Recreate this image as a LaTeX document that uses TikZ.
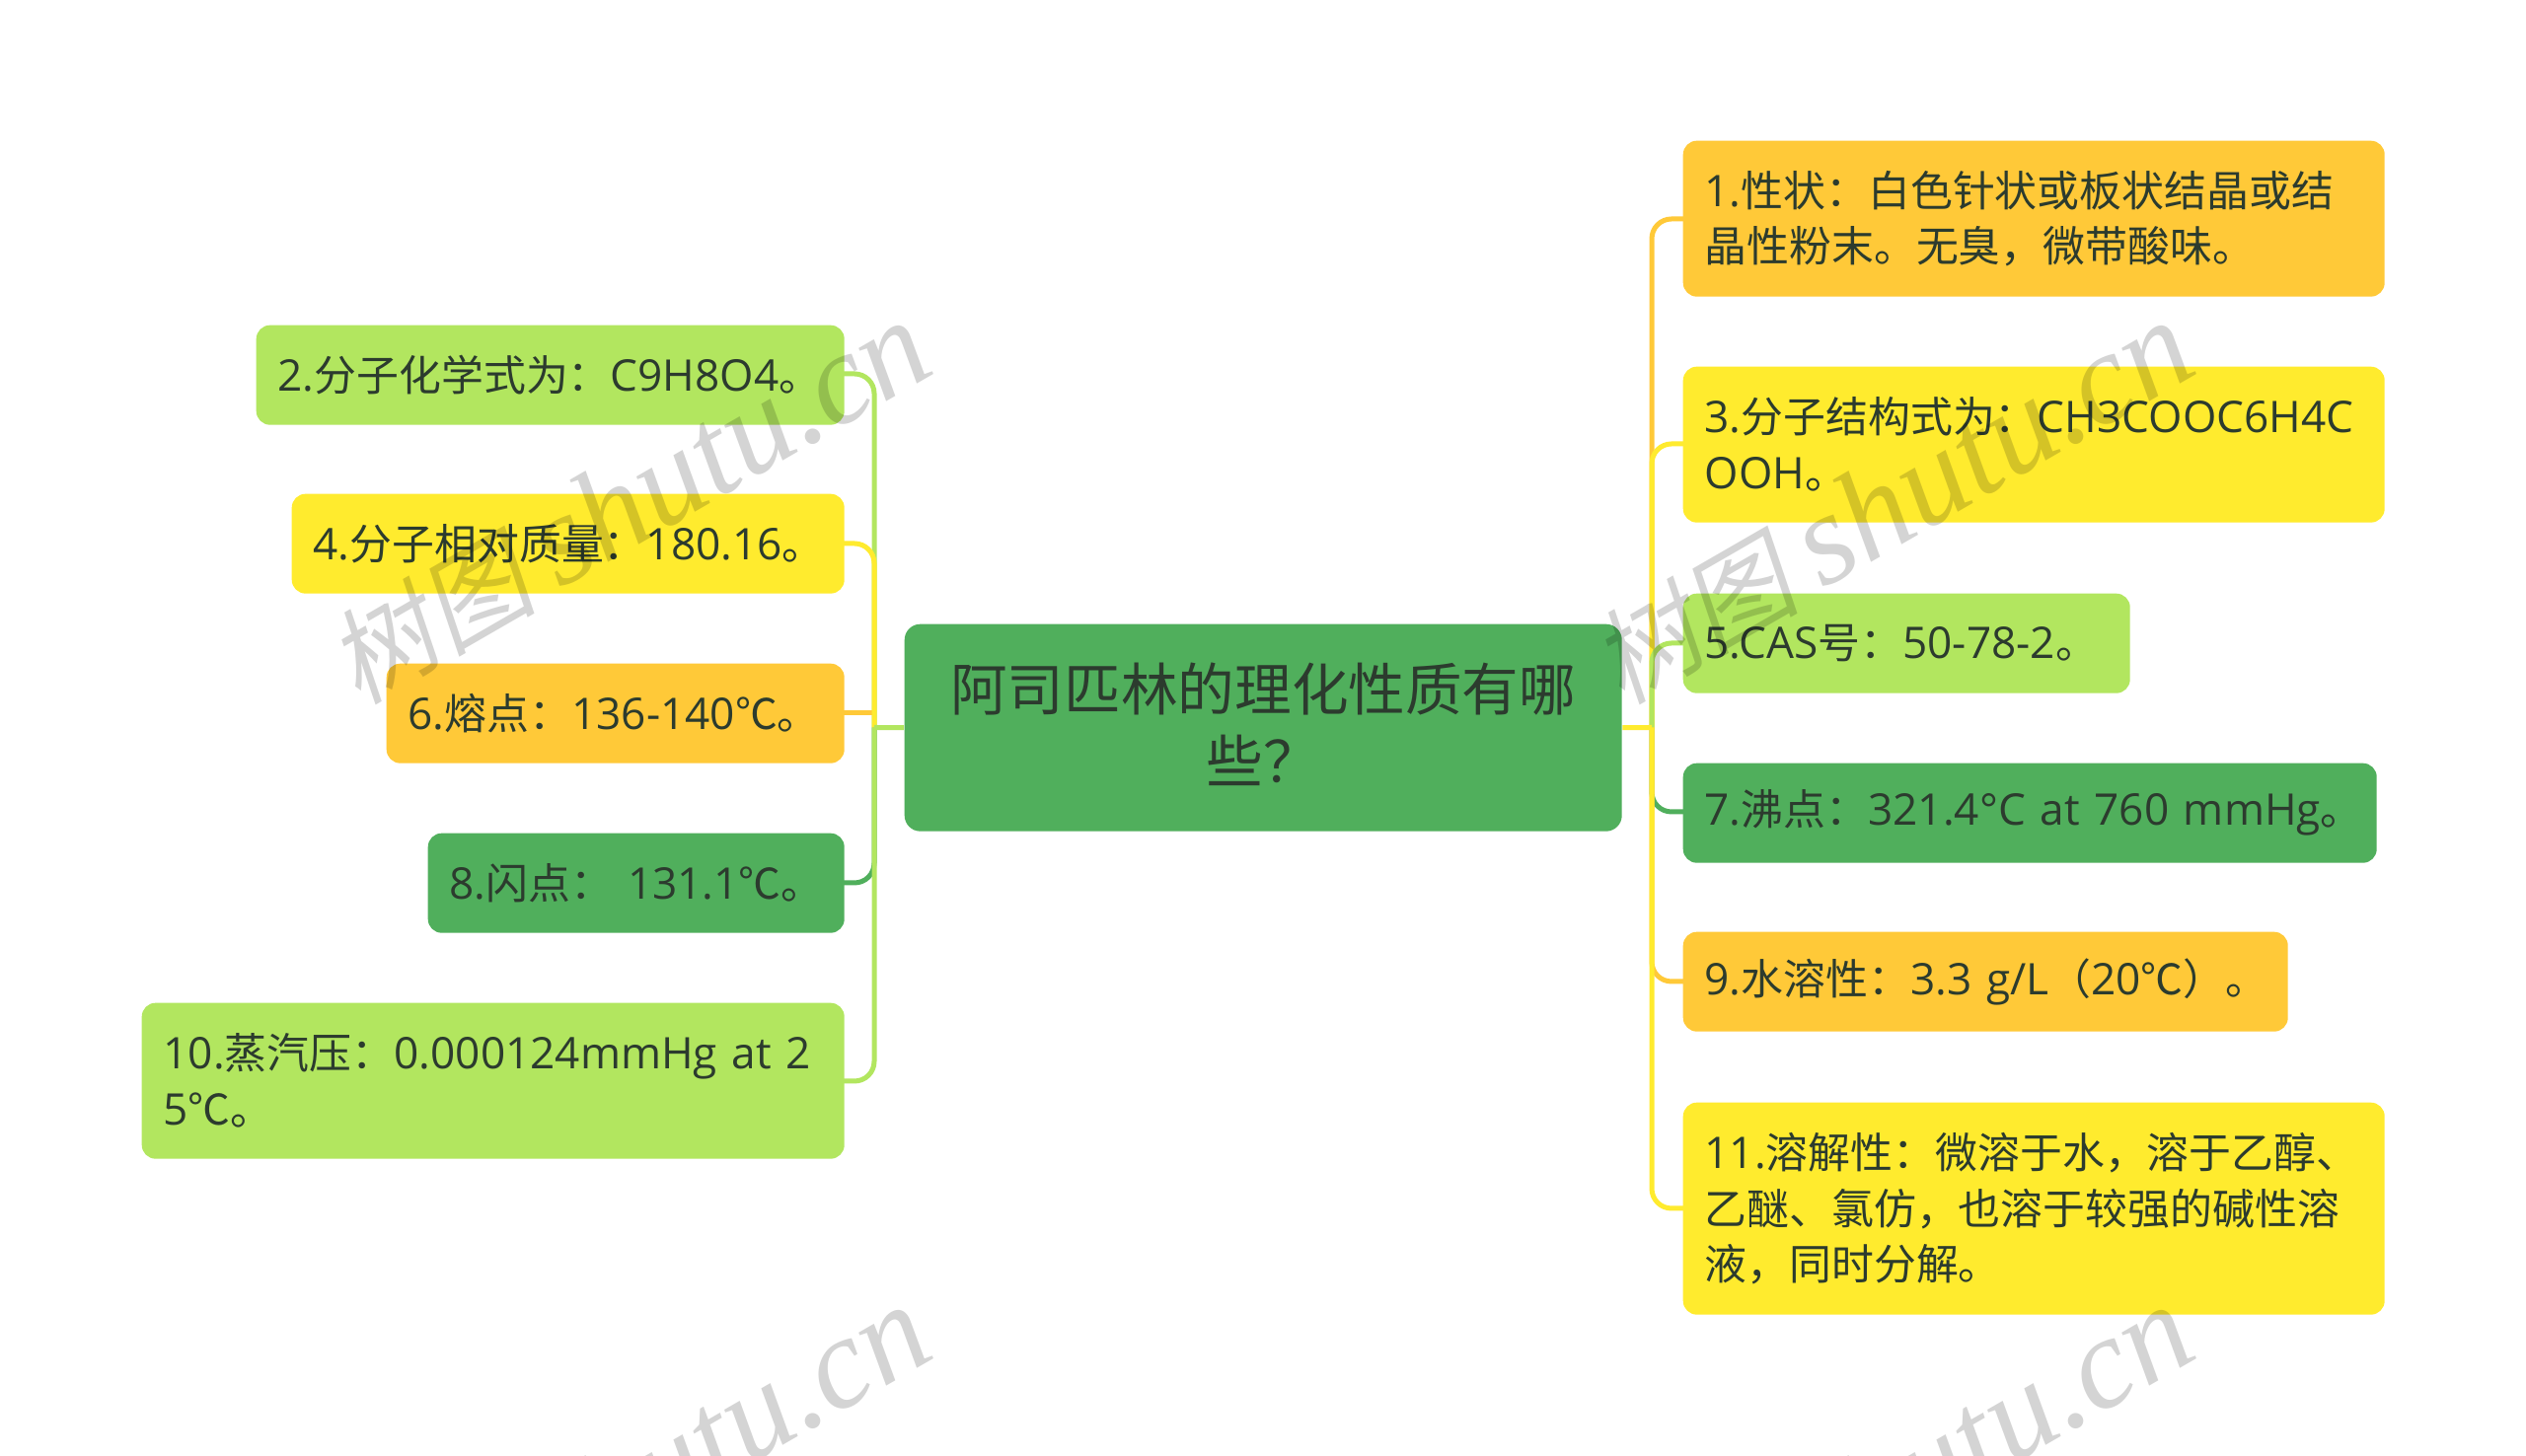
\documentclass[tikz,border=0pt]{standalone}
\usepackage{fontspec}
\setmainfont{Open Sans}[Scale=1.03]
\newfontfamily\cjk{Noto Sans CJK SC}
\newfontfamily\wmzh[FakeSlant=0.2]{Noto Sans CJK SC}
\newfontfamily\wmen{Liberation Serif}[ItalicFont={Liberation Serif Italic}]
\newcommand{\zh}[1]{{\cjk #1}}
\newcommand{\wmtext}{{\wmzh\fontsize{30}{30}\selectfont 树图}\hspace{7pt}{\wmen\itshape\fontsize{37.5}{37.5}\selectfont shutu.cn}}
\definecolor{leafgreen}{HTML}{B2E65F}
\definecolor{darkgreen}{HTML}{50AF5C}
\definecolor{leafyellow}{HTML}{FFEB2E}
\definecolor{leaforange}{HTML}{FFC938}
\definecolor{inktext}{HTML}{2C3B2E}
\tikzset{
	leaf/.style={anchor=north west, rounded corners=0.14cm, inner xsep=0.22cm, inner ysep=0pt, align=left, text=inktext, font=\fontsize{12.2}{16.2}\selectfont},
	topic/.style={anchor=north west, rounded corners=0.16cm, fill=darkgreen, inner xsep=0.21cm, inner ysep=0pt, align=center, text=inktext, font=\fontsize{16.4}{20.8}\selectfont},
	branch/.style={line width=0.05cm, rounded corners=0.2cm},
	stamp/.style={rotate=30, text=black, text opacity=0.17}
}
\begin{document}
\begin{tikzpicture}
	\path[use as bounding box, fill=white] (0,0) rectangle (25.6,14.76);
	\clip (0,0) rectangle (25.6,14.76);

	\coordinate (lbus) at (8.86,7.385);
	\coordinate (rbus) at (16.74,7.385);

	\draw[branch, leafgreen] (lbus) |- (8.55,10.97) coordinate (lend2);
	\draw[branch, darkgreen] (lbus) |- (8.55,5.81) coordinate (lend8);
	\draw[branch, leafgreen] (lbus) |- (8.55,3.80) coordinate (lend10);
	\draw[branch, leaforange] (lbus |- 0,7.53) -- (8.55,7.53) coordinate (lend6);
	\draw[branch, leafyellow] (lbus) |- (8.55,9.25) coordinate (lend4);

	\draw[branch, leaforange] (rbus) |- (17.06,12.54) coordinate (rend1);
	\draw[branch, darkgreen] (rbus) |- (17.06,6.53) coordinate (rend7);
	\draw[branch, leaforange] (rbus) |- (17.06,4.81) coordinate (rend9);
	\draw[branch, leafyellow] (rbus) |- (17.06,10.26) coordinate (rend3);
	\draw[branch, leafgreen] (rbus) |- (17.06,8.24) coordinate (rend5);
	\draw[branch, leafyellow] (rbus) |- (17.06,2.51) coordinate (rend11);

	\node[topic, text width=6.85cm, minimum height=2.10cm, text depth=23.8pt] (title) at (9.16,8.44) {\zh{阿司匹林的理化性质有哪}\\\zh{些？}};

	\draw[line width=0.05cm, leafgreen] (title.west) -- (lbus);
	\draw[line width=0.05cm, leafyellow] (title.east) -- (rbus);

	\node[leaf, fill=leafgreen, text width=5.52cm, minimum height=1.01cm] (item2) at (2.59,11.47) {2.\zh{分子化学式为：}C9H8O4\zh{。}};
	\node[leaf, fill=leafyellow, text width=5.16cm, minimum height=1.01cm] (item4) at (2.95,9.76) {4.\zh{分子相对质量：}180.16\zh{。}};
	\node[leaf, fill=leaforange, text width=4.20cm, minimum height=1.01cm] (item6) at (3.91,8.04) {6.\zh{熔点：}136-140\zh{℃。}};
	\node[leaf, fill=darkgreen, text width=3.78cm, minimum height=1.01cm] (item8) at (4.33,6.32) {\mbox{8.\zh{闪点：}\ 131.1\zh{℃。}}};
	\node[leaf, fill=leafgreen, text width=6.68cm, minimum height=1.58cm] (item10) at (1.43,4.60) {10.\zh{蒸汽压：}0.000124mmHg at 2\\5\zh{℃。}};

	\node[leaf, fill=leaforange, text width=6.67cm, minimum height=1.58cm] (item1) at (17.05,13.34) {1.\zh{性状：白色针状或板状结晶或结}\\\zh{晶性粉末。无臭，微带酸味。}};
	\node[leaf, fill=leafyellow, text width=6.67cm, minimum height=1.58cm] (item3) at (17.05,11.05) {3.\zh{分子结构式为：}CH3COOC6H4C\\OOH\zh{。}};
	\node[leaf, fill=leafgreen, text width=4.09cm, minimum height=1.01cm] (item5) at (17.05,8.75) {5.CAS\zh{号：}50-78-2\zh{。}};
	\node[leaf, fill=darkgreen, text width=6.59cm, minimum height=1.01cm] (item7) at (17.05,7.03) {\mbox{7.\zh{沸点：}321.4°C at 760 mmHg\zh{。}}};
	\node[leaf, fill=leaforange, text width=5.69cm, minimum height=1.01cm] (item9) at (17.05,5.32) {\mbox{9.\zh{水溶性：}3.3 g/L\smash{\zh{（}}20\smash{\zh{℃）}}\zh{。}}};
	\node[leaf, fill=leafyellow, text width=6.67cm, minimum height=2.15cm] (item11) at (17.05,3.59) {11.\zh{溶解性：微溶于水，溶于乙醇、}\\\zh{乙醚、氯仿，也溶于较强的碱性溶}\\\zh{液，同时分解。}};

	\node[stamp] (mark1) at (6.37,9.66) {\wmtext};
	\node[stamp] (mark2) at (19.17,9.66) {\wmtext};
	\node[stamp] (mark3) at (6.37,-0.32) {\wmtext};
	\node[stamp] (mark4) at (19.17,-0.32) {\wmtext};
\end{tikzpicture}
\end{document}
